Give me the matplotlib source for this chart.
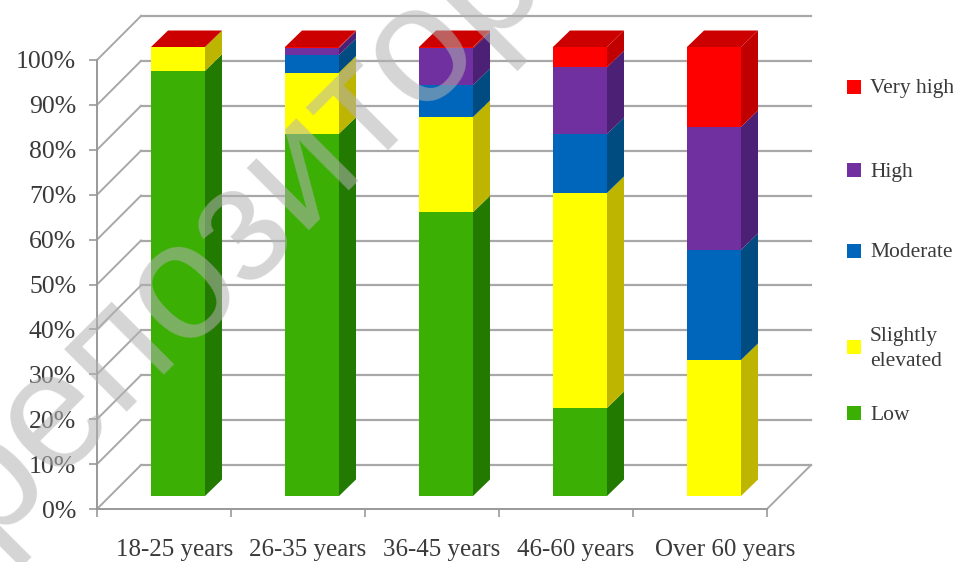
import matplotlib
matplotlib.use('Agg')
import matplotlib.pyplot as plt
from matplotlib.patches import Rectangle

plt.rcParams['font.family'] = ['Liberation Serif', 'DejaVu Serif']

W, H = 954, 562

categories = ['18-25 years', '26-35 years', '36-45 years', '46-60 years', 'Over 60 years']
levels = ['Low', 'Slightly\nelevated', 'Moderate', 'High', 'Very high']
low = [94.7, 80.7, 63.2, 19.6, 0]
slightly = [5.3, 13.6, 21.2, 47.9, 30.3]
moderate = [0, 3.9, 7.1, 13.1, 24.5]
high = [0, 1.6, 8.2, 14.9, 27.4]
very_high = [0, 0.2, 0.3, 4.5, 17.8]
series = [low, slightly, moderate, high, very_high]
yticks = [0, 10, 20, 30, 40, 50, 60, 70, 80, 90, 100]

front = ['#3CAF05', '#FFFF00', '#0066BB', '#7030A0', '#FF0000']
side = ['#237A00', '#BDB500', '#004C80', '#4B2075', '#C00000']
grid_c = '#A8A8A8'
text_c = '#3A3A3A'

fig = plt.figure(figsize=(W / 100, H / 100), dpi=100)
ax = fig.add_axes([97 / W, 1 - 509 / H, 670 / W, 449 / H])
ax.set_xlim(0, 5)
ax.set_ylim(0, 100)
ax.patch.set_alpha(0)

# 3d look, offsets in axis units
wall_dx, wall_dy = 44 / 134, 44 / 4.49
bar_dx, bar_dy = 17 / 134, 16.5 / 4.49
bar_left, bar_w = 54 / 134, 54 / 134
bar_base = 13 / 4.49

# walls
for v in yticks:
    ax.plot([0, wall_dx], [v, v + wall_dy], color=grid_c, lw=1.4, clip_on=False, zorder=1)
    ax.plot([wall_dx, 5 + wall_dx], [v + wall_dy, v + wall_dy], color=grid_c, lw=1.6,
            clip_on=False, zorder=1)
ax.plot([5, 5 + wall_dx], [0, wall_dy], color=grid_c, lw=1.4, clip_on=False, zorder=1)

# stacked bars
for i in range(len(categories)):
    x0 = i + bar_left
    x1 = x0 + bar_w
    bottom = bar_base
    for s, vals in enumerate(series):
        v = vals[i]
        if v == 0:
            continue
        ax.bar(x0, v, bar_w, bottom=bottom, align='edge', color=front[s], clip_on=False, zorder=3)
        ax.fill([x1, x1 + bar_dx, x1 + bar_dx, x1],
                [bottom, bottom + bar_dy, bottom + v + bar_dy, bottom + v],
                color=side[s], lw=0, clip_on=False, zorder=3)
        bottom += v
    ax.fill([x0, x1, x1 + bar_dx, x0 + bar_dx],
            [bottom, bottom, bottom + bar_dy, bottom + bar_dy],
            color='#CC0000', lw=0, clip_on=False, zorder=3)

# axes
for name in ['top', 'right']:
    ax.spines[name].set_visible(False)
for name in ['left', 'bottom']:
    ax.spines[name].set_color('#999999')
    ax.spines[name].set_linewidth(1.4)
ax.set_yticks(yticks)
ax.set_yticklabels(['%d%%' % v for v in yticks], fontsize=18.5, color=text_c)
ax.set_xticks(range(6))
ax.set_xticklabels([])
ax.tick_params(axis='both', color='#999999', width=1.2, length=6)
ax.tick_params(axis='y', pad=9)

shift = [11, 10, 10, 10, 25]
for i, c in enumerate(categories):
    ax.annotate(c, (i + 0.5, 0), xytext=(shift[i] * 0.72, -21.5), textcoords='offset points',
                ha='center', va='top', fontsize=18, color=text_c, annotation_clip=False)

# legend
legend_y = [413, 347, 251, 170, 87]
for s, lab in enumerate(levels):
    y = legend_y[s]
    fig.add_artist(Rectangle((847 / W, 1 - (y + 7) / H), 14 / W, 14 / H,
                             transform=fig.transFigure, color=front[s], lw=0))
    fig.text(870 / W, 1 - (y + 2) / H, lab, ha='left', va='center', fontsize=15.5, color=text_c,
             linespacing=1.5)

# watermark
fig.text(-15 / W, 1 - 543 / H, 'репозиторий', rotation=45, rotation_mode='anchor',
         ha='left', va='baseline', family=['Liberation Sans'], fontsize=120,
         color='#B2B2B2', alpha=0.55, zorder=10)

fig.savefig('out.png', dpi=100)
